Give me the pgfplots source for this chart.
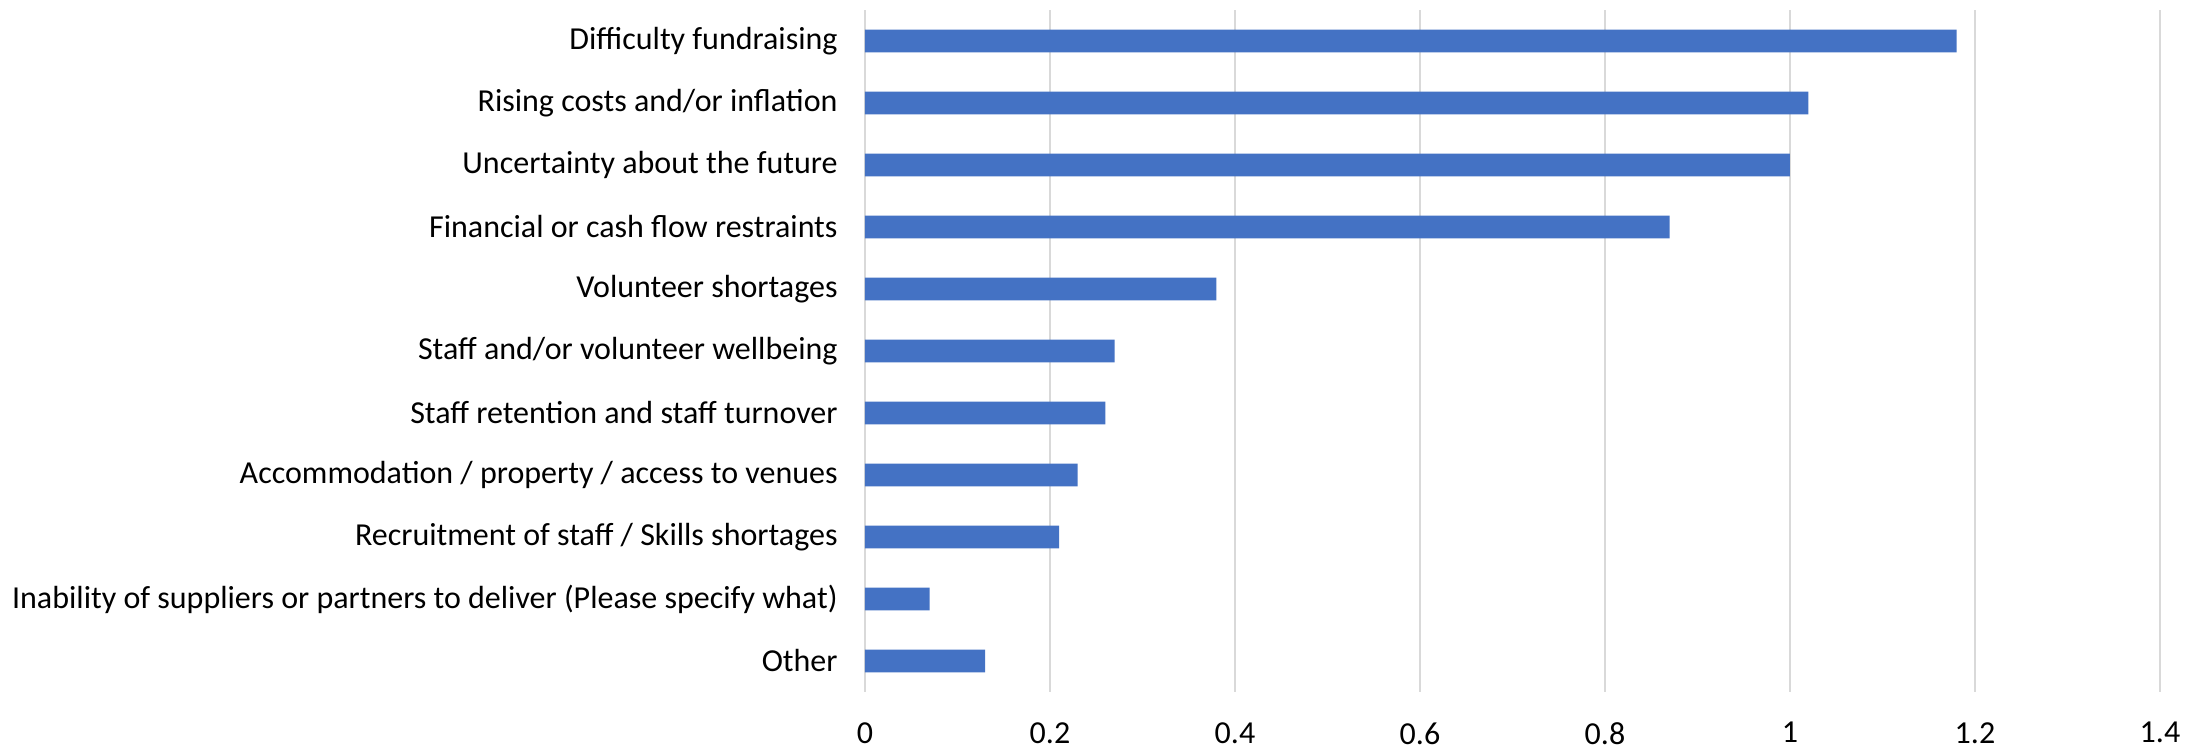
\documentclass[border=0pt]{standalone}
\usepackage{pgfplots}
\pgfplotsset{compat=1.18}
\usepackage{fontspec}
\setmainfont{Carlito}
\definecolor{barblue}{HTML}{4472C4}
\definecolor{gridgray}{HTML}{D9D9D9}
\begin{document}
\begin{tikzpicture}
\path[use as bounding box] (-432.5pt,-28pt) rectangle (668pt,346pt);
\begin{axis}[
  at={(0,0)}, anchor=south west,
  scale only axis,
  width=647.5pt, height=341pt,
  xbar, bar width=11.3pt,
  xmin=0, xmax=1.4,
  ymin=-0.5, ymax=10.5,
  xtick={0,0.2,...,1.4},
  ytick={0,...,10},
  yticklabels={Other,
    Inability of suppliers or partners to deliver (Please specify what),
    Recruitment of staff / Skills shortages,
    Accommodation / property / access to venues,
    Staff retention and staff turnover,
    Staff and/or volunteer wellbeing,
    Volunteer shortages,
    Financial or cash flow restraints,
    Uncertainty about the future,
    Rising costs and/or inflation,
    Difficulty fundraising},
  axis line style={draw=none},
  major tick length=0pt,
  xmajorgrids, major grid style={gridgray, line width=0.75pt},
  /pgf/number format/assume math mode=true,
  tick label style={font=\fontsize{16}{19}\selectfont, text=black},
  yticklabel style={inner sep=0pt, xshift=-13.5pt},
  xticklabel style={inner sep=0pt, yshift=-15pt},
]
\addplot[draw=none, fill=barblue] coordinates {
(0.13,0) (0.07,1) (0.21,2) (0.23,3) (0.26,4) (0.27,5) (0.38,6) (0.87,7) (1.0,8) (1.02,9) (1.18,10)};
\end{axis}
\end{tikzpicture}
\end{document}
